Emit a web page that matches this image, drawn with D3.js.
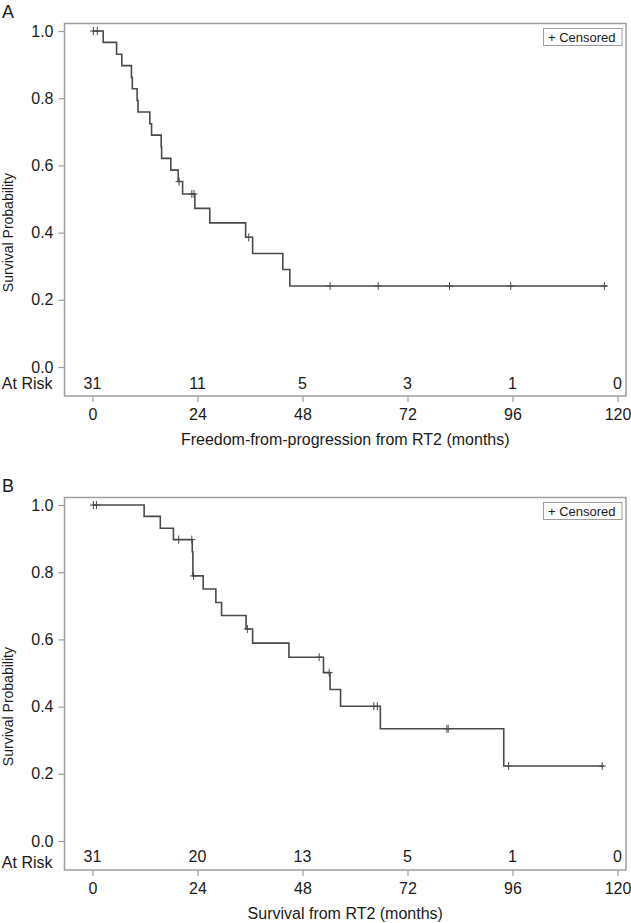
<!DOCTYPE html>
<html>
<head>
<meta charset="utf-8">
<script src="https://cdn.jsdelivr.net/npm/d3@7"></script>
<style>
  html, body { margin: 0; padding: 0; background: #fff; }
  svg { display: block; font-family: "Liberation Sans", Arial, sans-serif; }
</style>
</head>
<body>
<svg id="chart" width="631" height="923"></svg>
<script>
// ---- data ----
const xTicks = [0, 24, 48, 72, 96, 120];
const yTicks = [0, 0.2, 0.4, 0.6, 0.8, 1.0];

const atRiskA = [31, 11, 5, 3, 1, 0];
const eventTimesA = [2.45, 5.5, 6.7, 8.9, 9.1, 10.2, 10.4, 13.1, 13.5, 15.7, 15.8, 17.9, 19.6, 20.6, 23.4, 26.8, 35.0, 36.6, 43.5, 45.1];
const survA       = [0.966, 0.931, 0.897, 0.862, 0.828, 0.793, 0.759, 0.724, 0.690, 0.655, 0.621, 0.586, 0.552, 0.515, 0.472, 0.429, 0.386, 0.338, 0.290, 0.241];
const censorTimesA = [0.2, 1.1, 19.8, 22.7, 23.2, 35.7, 54.3, 65.3, 81.6, 95.6, 117.0];
const endTimeA = 117.6;

const atRiskB = [31, 20, 13, 5, 1, 0];
const eventTimesB = [11.8, 15.5, 18.5, 22.8, 22.95, 25.3, 28.2, 29.5, 35.1, 36.6, 44.9, 52.8, 54.3, 56.7, 65.8, 94.0];
const survB       = [0.966, 0.931, 0.897, 0.861, 0.789, 0.750, 0.710, 0.671, 0.631, 0.589, 0.547, 0.501, 0.451, 0.401, 0.334, 0.223];
const censorTimesB = [0.2, 0.9, 19.7, 22.7, 23.1, 35.4, 51.8, 54.1, 64.3, 65.1, 81.0, 81.3, 95.1, 116.5];
const endTimeB = 116.9;

const panels = [
  { label: "A", dy: 0, atRisk: atRiskA, times: eventTimesA, surv: survA, censors: censorTimesA, end: endTimeA,
    xTitle: "Freedom-from-progression from RT2 (months)", atRiskLabelShift: 0 },
  { label: "B", dy: 474, atRisk: atRiskB, times: eventTimesB, surv: survB, censors: censorTimesB, end: endTimeB,
    xTitle: "Survival from RT2 (months)", atRiskLabelShift: 5 }
];

// ---- drawing ----
const svg = d3.select("#chart");
const frameColor = "#9e9e9e";
const lineColor = "#4a4a4a";
const textColor = "#1a1a1a";

const x = d3.scaleLinear().domain([0, 120]).range([92.5, 617.5]);

panels.forEach(p => {
  const g = svg.append("g").attr("transform", `translate(0,${p.dy})`);
  const y = d3.scaleLinear().domain([0, 1]).range([367, 31]);
  const frame = { x0: 64.5, x1: 626, y0: 23.5, y1: 396 };

  // panel letter
  g.append("text").attr("x", 2).attr("y", 18).attr("font-size", 18).attr("fill", textColor).text(p.label);

  // frame
  g.append("rect")
    .attr("x", frame.x0).attr("y", frame.y0)
    .attr("width", frame.x1 - frame.x0).attr("height", frame.y1 - frame.y0)
    .attr("fill", "none").attr("stroke", frameColor).attr("stroke-width", 1.5);

  // y axis
  const yAxis = d3.axisLeft(y).tickValues(yTicks).tickFormat(d3.format(".1f")).tickSize(5.5).tickPadding(5);
  const ya = g.append("g").attr("transform", `translate(${frame.x0 - 0.5},0)`).call(yAxis);
  ya.select(".domain").remove();
  ya.selectAll(".tick line").attr("stroke", frameColor).attr("stroke-width", 1.2);
  ya.selectAll(".tick text").attr("font-size", 16).attr("fill", textColor).attr("font-family", "Liberation Sans, Arial, sans-serif");

  // x axis
  const xAxis = d3.axisBottom(x).tickValues(xTicks).tickFormat(d3.format("d")).tickSize(5.5).tickPadding(7);
  const xa = g.append("g").attr("transform", `translate(0,${frame.y1 + 0.5})`).call(xAxis);
  xa.select(".domain").remove();
  xa.selectAll(".tick line").attr("stroke", frameColor).attr("stroke-width", 1.2);
  xa.selectAll(".tick text").attr("font-size", 16).attr("fill", textColor).attr("font-family", "Liberation Sans, Arial, sans-serif");

  // axis titles
  g.append("text")
    .attr("x", (frame.x0 + frame.x1) / 2).attr("y", 445)
    .attr("text-anchor", "middle").attr("font-size", 16).attr("fill", textColor)
    .text(p.xTitle);
  g.append("text")
    .attr("transform", `translate(13,${y(0.4)}) rotate(-90)`)
    .attr("text-anchor", "middle").attr("font-size", 14).attr("fill", textColor)
    .text("Survival Probability");

  // at risk row
  g.append("text")
    .attr("x", 52.5).attr("y", 389 + p.atRiskLabelShift)
    .attr("text-anchor", "end").attr("font-size", 16).attr("fill", textColor)
    .text("At Risk");
  g.selectAll(".atrisk").data(p.atRisk).enter().append("text")
    .attr("x", (d, i) => x(xTicks[i])).attr("y", 389 - (p.atRiskLabelShift ? 1 : 0))
    .attr("text-anchor", "middle").attr("font-size", 16).attr("fill", textColor)
    .text(d => d);

  // KM step line
  const pts = [[0, 1]].concat(p.times.map((t, i) => [t, p.surv[i]]));
  pts.push([p.end, p.surv[p.surv.length - 1]]);
  const line = d3.line().x(d => x(d[0])).y(d => y(d[1])).curve(d3.curveStepAfter);
  g.append("path").attr("d", line(pts)).attr("fill", "none")
    .attr("stroke", lineColor).attr("stroke-width", 1.6);

  // censor marks
  const survAt = t => {
    const i = d3.bisectRight(p.times, t) - 1;
    return i < 0 ? 1 : p.surv[i];
  };
  const cg = g.append("g").attr("stroke", lineColor).attr("stroke-width", 1);
  p.censors.forEach(t => {
    const cx = x(t), cy = y(survAt(t));
    cg.append("line").attr("x1", cx).attr("x2", cx).attr("y1", cy - 4).attr("y2", cy + 4);
    cg.append("line").attr("x1", cx - 3.5).attr("x2", cx + 3.5).attr("y1", cy).attr("y2", cy);
  });

  // legend
  const lg = g.append("g");
  lg.append("rect").attr("x", 543.5).attr("y", 28.5).attr("width", 78.5).attr("height", 17)
    .attr("fill", "#fff").attr("stroke", frameColor).attr("stroke-width", 1);
  lg.append("text").attr("x", 548).attr("y", 41.5).attr("font-size", 13).attr("fill", textColor)
    .text("+ Censored");
});
</script>
</body>
</html>
